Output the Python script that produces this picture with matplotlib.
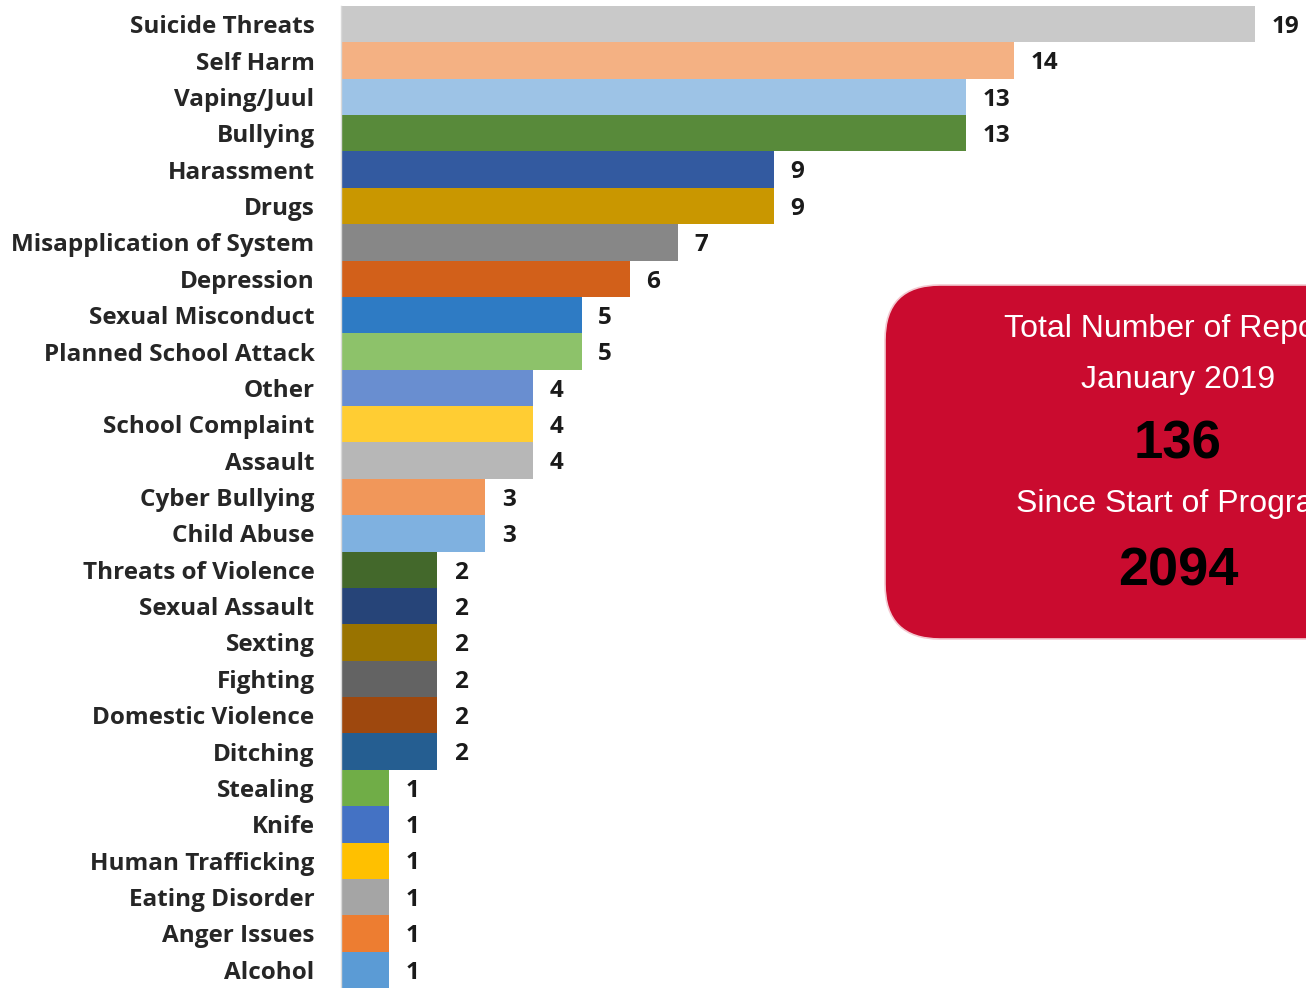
import matplotlib.pyplot as plt
from matplotlib.patches import FancyBboxPatch

# Data
categories = [
    "Suicide Threats", "Self Harm", "Vaping/Juul", "Bullying", "Harassment",
    "Drugs", "Misapplication of System", "Depression", "Sexual Misconduct",
    "Planned School Attack", "Other", "School Complaint", "Assault",
    "Cyber Bullying", "Child Abuse", "Threats of Violence", "Sexual Assault",
    "Sexting", "Fighting", "Domestic Violence", "Ditching", "Stealing",
    "Knife", "Human Trafficking", "Eating Disorder", "Anger Issues", "Alcohol",
]
counts = [19, 14, 13, 13, 9, 9, 7, 6, 5, 5, 4, 4, 4, 3, 3,
          2, 2, 2, 2, 2, 2, 1, 1, 1, 1, 1, 1]
bar_colors = [
    "#C9C9C9", "#F4B183", "#9DC3E6", "#588A3A", "#335AA0",
    "#C99700", "#878787", "#D2601A", "#2E7BC4", "#8DC26A",
    "#698ED0", "#FFCD33", "#B7B7B7", "#F1975A", "#7FB1E0",
    "#43682B", "#264478", "#997300", "#636363", "#9E480E",
    "#255E91", "#70AD47", "#4472C4", "#FFC000", "#A5A5A5",
    "#ED7D31", "#5B9BD5",
]

month_label = "January 2019"
month_total = 136
program_total = 2094

W, H = 1306, 988
fig = plt.figure(figsize=(W / 100, H / 100), dpi=100)

# main bar chart
ax = fig.add_axes([341 / W, 0, (W - 341) / W, (H - 6) / H])
ypos = list(range(len(categories)))
ax.barh(ypos, counts, height=1.0, color=bar_colors, edgecolor="none")
ax.set_ylim(len(categories) - 0.5, -0.5)
ax.set_xlim(0, (W - 341) / 48.1)
ax.set_yticks(ypos)
ax.set_yticklabels(categories, family="Open Sans", fontweight="bold",
                   fontsize=17.5, color="#262626")
ax.tick_params(axis="y", length=0, pad=19)
ax.set_xticks([])
for side in ["top", "right", "bottom"]:
    ax.spines[side].set_visible(False)
ax.spines["left"].set_color("#D9D9D9")
ax.spines["left"].set_linewidth(1.0)

for y, v in zip(ypos, counts):
    ax.annotate(str(v), (v, y), xytext=(12, -2), textcoords="offset points",
                va="center", ha="left", family="Open Sans", fontweight="bold",
                fontsize=17.5, color="#1A1A1A")

# red summary box, in pixel coordinates
ov = fig.add_axes([0, 0, 1, 1])
ov.set_xlim(0, W)
ov.set_ylim(H, 0)
ov.axis("off")
ov.patch.set_alpha(0)
box = FancyBboxPatch((885, 285), 520, 354,
                     boxstyle="round,pad=0,rounding_size=55",
                     facecolor="#CA0B2F", edgecolor="#F3C9D1", linewidth=1.2)
ov.add_patch(box)

cx = 1178
ov.text(cx, 337, "Total Number of Reports", ha="center", va="baseline",
        family="Liberation Sans", fontsize=23, color="white")
ov.text(cx, 388, month_label, ha="center", va="baseline",
        family="Liberation Sans", fontsize=23, color="white")
ov.text(cx, 458, str(month_total), ha="center", va="baseline",
        family="Liberation Sans", fontweight="bold", fontsize=38, color="black")
ov.text(cx, 512, "Since Start of Program", ha="center", va="baseline",
        family="Liberation Sans", fontsize=23, color="white")
ov.text(cx, 585, str(program_total), ha="center", va="baseline",
        family="Liberation Sans", fontweight="bold", fontsize=39, color="black")

fig.savefig("out.png", dpi=100)
